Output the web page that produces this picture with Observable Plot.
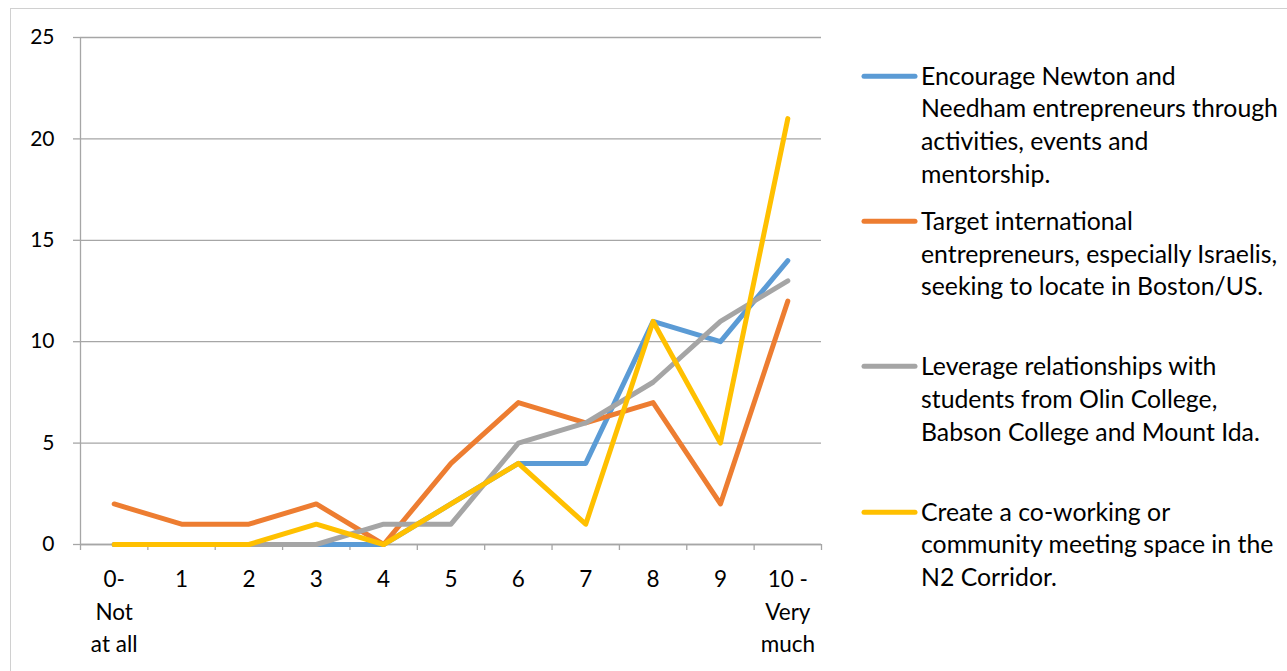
<!DOCTYPE html>
<html><head><meta charset="utf-8">
<script src="https://cdn.jsdelivr.net/npm/d3@7"></script>
<script src="https://cdn.jsdelivr.net/npm/@observablehq/plot@0.6"></script>
<style>
html,body{margin:0;padding:0;background:#fff;}
#wrap{position:relative;width:1287px;height:671px;overflow:hidden;font-family:Lato,"Open Sans",sans-serif;color:#000;}
#border{position:absolute;left:10px;top:8px;width:1300px;height:700px;border:1.5px solid #d0d0d0;box-sizing:border-box;}
#chart{position:absolute;left:0;top:0;}
.leg{position:absolute;left:861px;display:flex;align-items:flex-start;}
.leg svg{flex:none;}
.leg .txt{white-space:pre;font-size:24.8px;line-height:32.7px;margin-left:3px;}
</style>
</head><body>
<div id="wrap"><div id="border"></div><div id="chart"></div></div>
<script>
const categories = ["0-\nNot\nat all","1","2","3","4","5","6","7","8","9","10 -\nVery\nmuch"];
const seriesNames = [
  "Encourage Newton and\nNeedham entrepreneurs through\nactivities, events and\nmentorship.",
  "Target international\nentrepreneurs, especially Israelis,\nseeking to locate in Boston/US.",
  "Leverage relationships with\nstudents from Olin College,\nBabson College and Mount Ida.",
  "Create a co-working or\ncommunity meeting space in the\nN2 Corridor."
];
const seriesColors = ["#5B9BD5","#ED7D31","#A5A5A5","#FFC000"];
const encourage = [0,0,0,0,0,2,4,4,11,10,14];
const target    = [2,1,1,2,0,4,7,6,7,2,12];
const leverage  = [0,0,0,0,1,1,5,6,8,11,13];
const cowork    = [0,0,0,1,0,2,4,1,11,5,21];
const yTicks = [0,5,10,15,20,25];

const seriesValues = [encourage, target, leverage, cowork];
const data = seriesValues.flatMap((vals, s) => vals.map((v, i) => ({i, v, s: seriesNames[s]})));
const idx = categories.map((_, i) => i);
const boundaries = d3.range(categories.length + 1).map(i => i - 0.5);

const gridColor = "#a6a6a6";
const chart = Plot.plot({
  width: 1287, height: 671,
  marginLeft: 80, marginRight: 466, marginTop: 37, marginBottom: 127,
  style: {fontFamily: "Lato, 'Open Sans', sans-serif", fontSize: "21px", color: "#000", background: "transparent", overflow: "visible"},
  x: {type: "linear", domain: [-0.5, categories.length - 0.5], axis: null},
  y: {domain: [0, 25], axis: null},
  color: {domain: seriesNames, range: seriesColors},
  marks: [
    Plot.gridY(yTicks, {stroke: gridColor, strokeOpacity: 1, strokeWidth: 1.3}),
    Plot.ruleX([-0.5], {stroke: gridColor, strokeWidth: 1.3}),
    Plot.axisY({ticks: yTicks, tickSize: 7, tickPadding: 19, stroke: gridColor, strokeWidth: 1.3, strokeOpacity: 1, fontSize: 21, fill: "#000", label: null}),
    Plot.axisX({ticks: boundaries, tickFormat: () => "", tickSize: 6, stroke: gridColor, strokeWidth: 1.3, strokeOpacity: 1, label: null}),
    Plot.ruleY([0], {stroke: gridColor, strokeWidth: 1.3}),
    Plot.text(idx, {x: d => d, y: 0, text: d => categories[d], dy: 20, lineAnchor: "top", lineHeight: 1.43, fontSize: 22.5, fill: "#000"}),
    Plot.line(data, {x: "i", y: "v", z: "s", stroke: "s", strokeWidth: 5, strokeLinejoin: "round", strokeLinecap: "round"})
  ]
});
document.getElementById("chart").appendChild(chart);

const wrap = d3.select("#wrap");
seriesNames.forEach((name, k) => {
  const cy = 76 + k * 145.3;
  const g = wrap.append("div").attr("class", "leg").style("top", (cy - 16.35) + "px");
  const sw = g.append("svg").attr("width", 57).attr("height", 32.7);
  sw.append("line").attr("x1", 3).attr("x2", 54).attr("y1", 16.35).attr("y2", 16.35)
    .attr("stroke", seriesColors[k]).attr("stroke-width", 5).attr("stroke-linecap", "round");
  g.append("div").attr("class", "txt").text(name);
});
</script>
</body></html>
